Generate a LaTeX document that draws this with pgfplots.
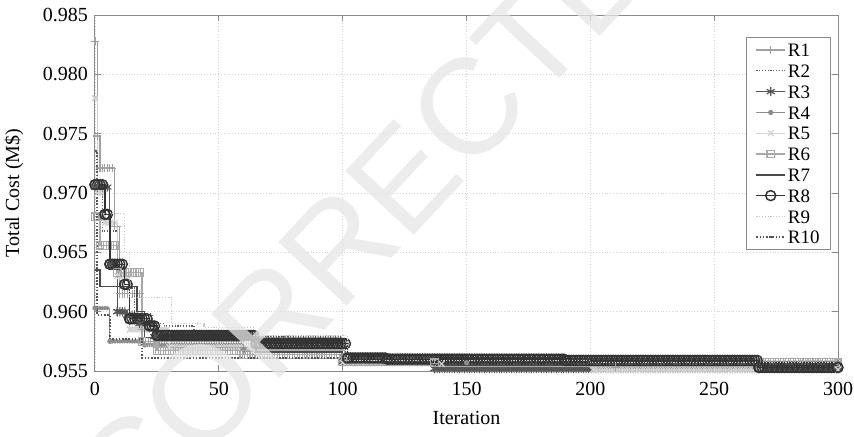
\documentclass[border=0pt]{standalone}
\usepackage{fontspec}
\setmainfont{Liberation Serif}
\newfontfamily\wmfont{Liberation Sans}
\usepackage{pgfplots}
\usepackage{pgfplotstable}
\pgfplotsset{compat=1.18}
\usetikzlibrary{decorations.markings}

\definecolor{c1}{HTML}{A0A0A0}
\definecolor{c2}{HTML}{606060}
\definecolor{c3}{HTML}{555555}
\definecolor{c4}{HTML}{8C8C8C}
\definecolor{c5}{HTML}{D2D2D2}
\definecolor{c6}{HTML}{A8A8A8}
\definecolor{c7}{HTML}{4A4A4A}
\definecolor{c8}{HTML}{333333}
\definecolor{c9}{HTML}{C8C8C8}
\definecolor{c10}{HTML}{555555}
\definecolor{axgray}{HTML}{8A8A8A}

\tikzset{
  mks/.style n args={4}{postaction={decorate},
    decoration={markings, mark=between positions 0 and 1 step 1.24pt with
      {\pgfsetstrokecolor{#1}\pgfsetfillcolor{#1}\pgfsetlinewidth{#4}\pgfsetplotmarksize{#3}\pgfuseplotmark{#2}}}}
}

\pgfplotstableread{
x y
0 0.9828
1 0.9748
2 0.9721
8 0.9672
10 0.9615
19 0.9585
24 0.9575
60 0.9570
100 0.9558
137 0.9556
210 0.9553
300 0.9553
}\rOne
\pgfplotstableread{
x y
0 0.9705
3 0.9668
9 0.9640
12 0.9620
16 0.9598
23 0.9590
28 0.9588
40 0.9584
46 0.9579
80 0.9572
101 0.9558
137 0.9557
300 0.9557
}\rTwo
\pgfplotstableread{
x y
0 0.9705
6 0.9640
9 0.9600
13 0.9597
18 0.9590
24 0.9579
65 0.9576
100 0.9558
137 0.9552
300 0.9552
}\rThree
\pgfplotstableread{
x y
0 0.9603
6 0.9575
20 0.9572
60 0.9568
100 0.9563
150 0.9557
300 0.9557
}\rFour
\pgfplotstableread{
x y
0 0.9780
1 0.9700
4 0.9675
9 0.9630
14 0.9585
30 0.9570
100 0.9557
140 0.9556
201 0.9551
300 0.9551
}\rFive
\pgfplotstableread{
x y
0 0.9680
2 0.9656
9 0.9633
19 0.9575
25 0.9567
60 0.9564
100 0.9558
137 0.9557
300 0.9557
}\rSix
\pgfplotstableread{
x y
0 0.9635
2 0.9621
17 0.9600
20 0.9578
65 0.9566
100 0.9563
138 0.9555
300 0.9555
}\rSeven
\pgfplotstableread{
x y
0 0.9707
4 0.9682
6 0.9640
12 0.9623
14 0.9594
22 0.9588
25 0.9580
65 0.9573
102 0.9561
118 0.9560
190 0.9559
268 0.9553
300 0.9553
}\rEight
\pgfplotstableread{
x y
0 0.9683
12 0.9650
14 0.9612
31 0.9590
44 0.9587
64 0.9580
102 0.9559
200 0.9557
300 0.9556
}\rNine
\pgfplotstableread{
x y
0 0.9735
1 0.9597
6 0.9577
19 0.9561
137 0.9556
300 0.9556
}\rTen

\begin{document}
\begin{tikzpicture}
\begin{axis}[
  at={(0,0)}, anchor=south west,
  scale only axis, width=371.5pt, height=178pt,
  xmin=0, xmax=300, ymin=0.955, ymax=0.985,
  xtick={0,50,100,150,200,250,300},
  ytick={0.955,0.96,0.965,0.97,0.975,0.98,0.985},
  scaled y ticks=false,
  yticklabel style={/pgf/number format/.cd, fixed, fixed zerofill, precision=3},
  xticklabel style={yshift=-2pt},
  /pgf/number format/assume math mode=true,
  tick label style={font=\fontsize{10}{12}\selectfont, text=black},
  label style={font=\fontsize{10}{12}\selectfont},
  xlabel={Iteration}, ylabel={Total Cost (M\$)},
  xlabel style={at={(axis description cs:0.5,-0.132)}, anchor=center},
  ylabel style={at={(axis description cs:-0.109,0.5)}, anchor=center},
  grid=major, grid style={densely dotted, gray!35, line width=0.4pt},
  axis line style={axgray, line width=0.5pt},
  tick style={axgray, line width=0.5pt},
  tick align=inside, major tick length=3pt,
  clip=false,
  legend style={draw=axgray, fill=white, font=\fontsize{9.5}{9.5}\selectfont,
    at={(axis description cs:1,1)}, anchor=north east, xshift=-3.5pt, yshift=-11pt,
    row sep=1.8pt, inner xsep=4.5pt, inner ysep=2pt,
    nodes={inner sep=1pt, text height=6.6pt, text depth=0pt}},
  legend cell align=left,
  legend image code/.code={\draw[mark repeat=2,mark phase=2,#1] plot coordinates {(0cm,0cm) (0.25cm,0cm) (0.5cm,0cm)};},
]
% R1
\addplot[const plot, color=c1, line width=0.6pt, mark=+, mark size=2pt, mark options={solid}] table {\rOne};
\addlegendentry{R1}
\addplot[forget plot, jump mark left, draw=none, mks={c1}{+}{2pt}{0.5pt}] table {\rOne};
% R2
\addplot[const plot, color=c2, line width=0.6pt, dash pattern=on 0.6pt off 0.8pt] table {\rTwo};
\addlegendentry{R2}
% R3
\addplot[const plot, color=c3, line width=0.6pt, mark=asterisk, mark size=2.3pt, mark options={solid}] table {\rThree};
\addlegendentry{R3}
\addplot[forget plot, jump mark left, draw=none, mks={c3}{asterisk}{2.3pt}{0.5pt}] table {\rThree};
% R4
\addplot[const plot, color=c4, line width=0.6pt, mark=*, mark size=1pt, mark options={solid}] table {\rFour};
\addlegendentry{R4}
\addplot[forget plot, jump mark left, draw=none, mks={c4}{*}{0.9pt}{0.4pt}] table {\rFour};
% R5
\addplot[const plot, color=c5, line width=0.6pt, mark=x, mark size=2pt, mark options={solid}] table {\rFive};
\addlegendentry{R5}
\addplot[forget plot, jump mark left, draw=none, mks={c5}{x}{2pt}{0.5pt}] table {\rFive};
% R6
\addplot[const plot, color=c6, line width=0.6pt, mark=square, mark size=1.9pt, mark options={solid}] table {\rSix};
\addlegendentry{R6}
\addplot[forget plot, jump mark left, draw=none, mks={c6}{square}{1.9pt}{0.5pt}] table {\rSix};
% R7
\addplot[const plot, color=c7, line width=0.7pt] table {\rSeven};
\addlegendentry{R7}
% R8
\addplot[const plot, color=c8, line width=0.7pt, mark=o, mark size=2.5pt, mark options={solid, line width=0.75pt}] table {\rEight};
\addlegendentry{R8}
\addplot[forget plot, jump mark left, draw=none, mks={c8}{o}{2.5pt}{0.7pt}] table {\rEight};
% R9
\addplot[const plot, color=c9, line width=0.6pt, dash pattern=on 0.6pt off 0.8pt] table {\rNine};
\addlegendentry{R9}
% R10
\addplot[const plot, color=c10, line width=1pt, dash pattern=on 0.8pt off 0.8pt] table {\rTen};
\addlegendentry{R10}
\end{axis}
\node[rotate=47, text=gray!20, text opacity=0.75, font=\wmfont\fontsize{68}{68}\selectfont] at (149pt,91pt) {CORRECTED};
\pgfresetboundingbox
\path[use as bounding box] (-47.5pt,-32.5pt) rectangle (379.5pt,185.5pt);
\end{tikzpicture}
\end{document}
